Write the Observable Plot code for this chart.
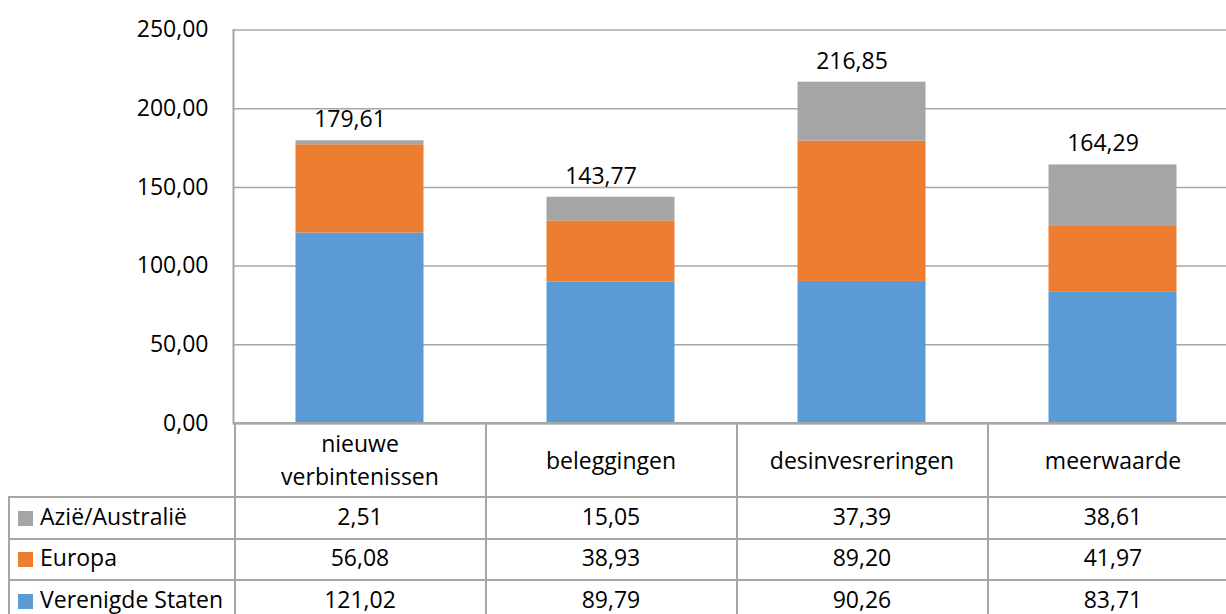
<!DOCTYPE html>
<html>
<head>
<meta charset="utf-8">
<script src="https://cdn.jsdelivr.net/npm/d3@7"></script>
<script src="https://cdn.jsdelivr.net/npm/@observablehq/plot@0.6"></script>
<style>
  html, body { margin: 0; padding: 0; background: #fff; overflow: hidden; width: 1226px; height: 614px; }
  #wrap { position: relative; width: 1226px; height: 614px; overflow: hidden; }
  #wrap svg { position: absolute; left: 0; top: 0; }
  table.dt { position: absolute; border-collapse: collapse; table-layout: fixed;
    font-family: 'Open Sans', sans-serif; font-size: 23px; color: #000; }
  table.dt td { border: 2px solid #a6a6a6; padding: 0; text-align: center; vertical-align: middle; }
  table.dt tr.head td { height: 72px; line-height: 33px; }
  table.dt tr.head td.blank { border-left: none; border-bottom: 2px solid #a6a6a6; border-top: none; }
  table.dt tr.row td { height: 35.5px; padding-bottom: 4px; line-height: 28px; }
  table.dt td.lab { text-align: left; padding-left: 8px; white-space: nowrap; }
  .sw { display: inline-block; width: 15px; height: 15px; margin-right: 7px; vertical-align: -1px; }
  .hd { max-width: 195px; margin: 0 auto; }
</style>
</head>
<body>
<div id="wrap"></div>
<script>
// ---- data ----
const categories = ["nieuwe verbintenissen", "beleggingen", "desinvesreringen", "meerwaarde"];
const seriesNames = ["Azië/Australië", "Europa", "Verenigde Staten"]; // table order (top to bottom)
const stackOrder = ["Verenigde Staten", "Europa", "Azië/Australië"];   // bottom to top
const azie = [2.51, 15.05, 37.39, 38.61];
const europa = [56.08, 38.93, 89.20, 41.97];
const verenigdeStaten = [121.02, 89.79, 90.26, 83.71];
const totals = [179.61, 143.77, 216.85, 164.29];
const yTicks = [0, 50, 100, 150, 200, 250];
const seriesColors = ["#A5A5A5", "#ED7D31", "#5B9BD5"];

const seriesValues = {
  "Azië/Australië": azie,
  "Europa": europa,
  "Verenigde Staten": verenigdeStaten
};

const fmt = d => d.toFixed(2).replace(".", ",");

const rows = [];
categories.forEach((c, i) => {
  stackOrder.forEach(s => rows.push({cat: c, series: s, value: seriesValues[s][i]}));
});

const gridColor = "#a6a6a6";

const chart = Plot.plot({
  width: 1226,
  height: 424,
  marginTop: 29.5,
  marginBottom: 1,
  marginLeft: 233,
  marginRight: 0,
  style: {fontFamily: "'Open Sans', sans-serif", fontSize: "23px", color: "#000", background: "transparent", overflow: "visible"},
  x: {domain: categories, range: [233.5, 1238.7], padding: 0, axis: null},
  y: {domain: [0, 250], range: [423, 29.5], axis: null},
  color: {domain: seriesNames, range: seriesColors},
  marks: [
    Plot.gridY(yTicks, {stroke: gridColor, strokeOpacity: 1, strokeWidth: 1.5}),
    Plot.barY(rows, {x: "cat", y: "value", fill: "series", order: stackOrder, insetLeft: 61.5, insetRight: 61.5}),
    Plot.axisY(yTicks, {tickSize: 0, tickPadding: 25, tickFormat: fmt, fontSize: 23, fill: "#000", label: null}),
    Plot.text(totals, {x: categories, y: totals, text: totals.map(fmt), dy: -21, dx: -10, fontSize: 23, fill: "#000"}),
    Plot.ruleY([0], {stroke: gridColor, strokeWidth: 2}),
    Plot.frame({anchor: "left", stroke: gridColor, strokeWidth: 2})
  ]
});

const wrap = document.getElementById("wrap");
wrap.appendChild(chart);

// ---- data table aligned to the x scale ----
const xs = chart.scale("x");
const step = xs.bandwidth !== undefined ? xs.bandwidth : xs.step;
const x0 = xs.range[0];
const tableLeft = 8;
const table = document.createElement("table");
table.className = "dt";
table.style.left = tableLeft + "px";
table.style.top = "422px";

const colgroup = document.createElement("colgroup");
const c0 = document.createElement("col");
c0.style.width = (x0 - tableLeft) + "px";
colgroup.appendChild(c0);
categories.forEach(() => {
  const c = document.createElement("col");
  c.style.width = step + "px";
  colgroup.appendChild(c);
});
table.appendChild(colgroup);
table.style.width = (x0 - tableLeft + step * categories.length) + "px";

const head = document.createElement("tr");
head.className = "head";
const blank = document.createElement("td");
blank.className = "blank";
head.appendChild(blank);
categories.forEach(c => {
  const td = document.createElement("td");
  const d = document.createElement("div");
  d.className = "hd";
  d.textContent = c;
  td.appendChild(d);
  head.appendChild(td);
});
table.appendChild(head);

seriesNames.forEach((s, si) => {
  const tr = document.createElement("tr");
  tr.className = "row";
  const lab = document.createElement("td");
  lab.className = "lab";
  const sw = document.createElement("span");
  sw.className = "sw";
  sw.style.background = seriesColors[si];
  lab.appendChild(sw);
  lab.appendChild(document.createTextNode(s));
  tr.appendChild(lab);
  seriesValues[s].forEach(v => {
    const td = document.createElement("td");
    td.textContent = fmt(v);
    tr.appendChild(td);
  });
  table.appendChild(tr);
});
wrap.appendChild(table);
</script>
</body>
</html>
